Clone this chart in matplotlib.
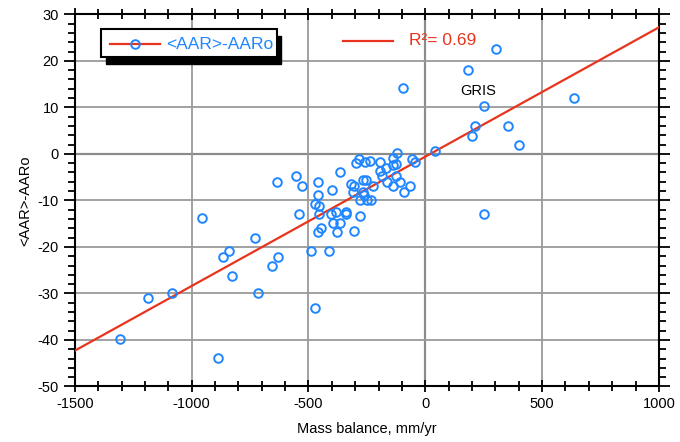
import matplotlib
matplotlib.use('Agg')
import matplotlib.pyplot as plt
from matplotlib.patches import Rectangle
from matplotlib.ticker import MultipleLocator

# mass balance (mm/yr) and <AAR>-AARo
mass_balance = [-1306, -1187, -1082, -955, -889, -866, -841, -827, -729, -714,
                -658, -632, -634, -553, -527, -542, -491, -474, -474, -455,
                -455, -457, -457, -445, -457, -410, -400, -402, -384, -396,
                -367, -378, -367, -338, -338, -281, -281, -250, -303, -298,
                -283, -256, -238, -320, -305, -311, -267, -253, -267, -264,
                -231, -224, -193, -193, -184, -168, -165, -139, -120, -139,
                -127, -138, -110, -65, -89, -57, -46, -127, -97, 40,
                184, 304, 250, 211, 201, 354, 402, 635, 250]
aar_diff = [-39.8, -31.0, -29.8, -13.8, -43.9, -22.2, -20.9, -26.2, -18.1, -29.8,
            -24.2, -22.2, -6.1, -4.8, -6.8, -12.9, -20.9, -33.1, -10.8, -11.1,
            -12.9, -6.1, -8.8, -16.0, -16.8, -20.9, -7.7, -12.9, -12.5, -14.8,
            -14.8, -16.8, -4.0, -12.5, -12.9, -13.3, -10.0, -10.0, -16.5, -2.0,
            -1.1, -1.8, -1.6, -6.5, -6.8, -8.1, -5.7, -5.7, -8.1, -8.8,
            -10.0, -6.8, -1.7, -3.6, -4.7, -3.1, -6.1, -0.9, 0.1, -2.4,
            -2.2, -6.8, -6.1, -6.8, -8.1, -1.1, -1.8, -4.8, 14.1, 0.7,
            18.1, 22.5, 10.4, 6.1, 3.9, 6.1, 2.0, 12.1, -12.9]

# regression line end points
fit_x = [-1500, 1000]
fit_y = [-42.3, 27.2]
r2_label = 'R\u00b2= 0.69'

blue = '#1f86ff'
red = '#e8341c'

plt.rcParams['font.family'] = ['Liberation Sans', 'DejaVu Sans']
plt.rcParams['axes.unicode_minus'] = False

fig = plt.figure(figsize=(6.8, 4.42), dpi=100)
ax = fig.add_axes([0.110, 0.1256, 0.859, 0.842])

ax.set_xlim(-1500, 1000)
ax.set_ylim(-50, 30)
ax.xaxis.set_major_locator(MultipleLocator(500))
ax.xaxis.set_minor_locator(MultipleLocator(100))
ax.yaxis.set_major_locator(MultipleLocator(10))
ax.yaxis.set_minor_locator(MultipleLocator(2))

ax.grid(True, which='major', color='#9a9a9a', lw=1.3)
ax.axhline(0, color='black', lw=1.5, zorder=1.5)
ax.axvline(0, color='black', lw=1.5, zorder=1.5)

ax.plot(fit_x, fit_y, color=red, lw=1.6, zorder=3)
ax.plot(mass_balance, aar_diff, lw=0, marker='o', ms=6.2, mfc='none',
        mec=blue, mew=1.4, zorder=4)

ax.text(228, 13.5, 'GRIS', fontsize=10.5, ha='center', va='center')

for s in ax.spines.values():
    s.set_linewidth(1.5)
ax.tick_params(axis='x', which='both', direction='inout', top=True, width=1.3,
               labelsize=10.5, pad=3)
ax.tick_params(axis='x', which='major', length=9)
ax.tick_params(axis='x', which='minor', length=7)
ax.tick_params(axis='y', which='both', direction='out', right=True, width=1.3,
               labelsize=10.5)
ax.tick_params(axis='y', which='major', length=8)
ax.tick_params(axis='y', which='minor', length=5)

ax.set_xlabel('Mass balance, mm/yr', fontsize=10.5, labelpad=8)
ax.set_ylabel('<AAR>-AARo', fontsize=10.5, labelpad=4)

# legend box with black drop shadow
x0, y0, w, h = 0.0457, 0.8845, 0.2997, 0.0752
ax.add_patch(Rectangle((x0 + 0.008, y0 - 0.018), w, h, transform=ax.transAxes,
                       facecolor='black', edgecolor='black', zorder=6))
ax.add_patch(Rectangle((x0, y0), w, h, transform=ax.transAxes,
                       facecolor='white', edgecolor='black', lw=1.5, zorder=7))
ax.plot([0.0599, 0.1455], [0.9194, 0.9194], transform=ax.transAxes,
        color=red, lw=1.6, zorder=8)
ax.plot([0.1027], [0.9194], transform=ax.transAxes, lw=0, marker='o',
        ms=6.2, mfc='none', mec=blue, mew=1.4, zorder=9)
ax.text(0.1571, 0.9194, '<AAR>-AARo', transform=ax.transAxes, color=blue,
        fontsize=12.5, va='center', ha='left', zorder=9)

ax.plot([0.4589, 0.5445], [0.929, 0.929], transform=ax.transAxes,
        color=red, lw=1.6, zorder=8)
ax.text(0.5720, 0.929, r2_label, transform=ax.transAxes, color=red,
        fontsize=12.5, va='center', ha='left', zorder=9)

fig.savefig('out.png', dpi=100)
plt.close(fig)
